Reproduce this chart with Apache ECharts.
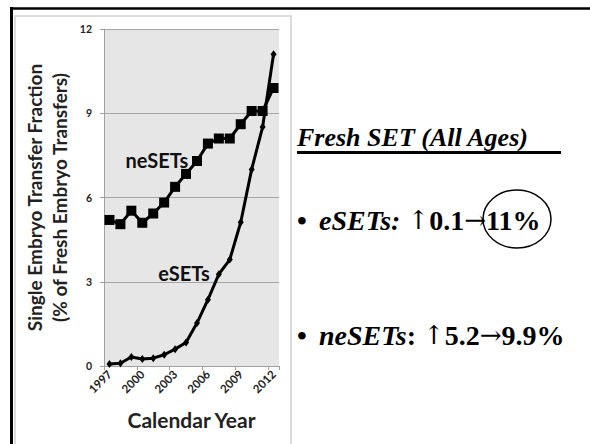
<!DOCTYPE html>
<html>
<head>
<meta charset="utf-8">
<script src="https://cdn.jsdelivr.net/npm/echarts@6/dist/echarts.min.js"></script>
<style>
  html, body { margin: 0; padding: 0; background: #fff; }
  #chart { width: 590px; height: 444px; }
</style>
</head>
<body>
<div id="chart"></div>
<script>
// calendar years on the x axis
const years = ["1997", "1998", "1999", "2000", "2001", "2002", "2003", "2004",
  "2005", "2006", "2007", "2008", "2009", "2010", "2011", "2012"];
// elective single embryo transfers (% of fresh transfers)
const eSETs = [0.07, 0.1, 0.32, 0.25, 0.28, 0.4, 0.6, 0.84,
  1.53, 2.36, 3.27, 3.79, 5.12, 7.0, 8.51, 11.1];
// non-elective single embryo transfers
const neSETs = [5.2, 5.05, 5.53, 5.1, 5.43, 5.82, 6.38, 6.84,
  7.3, 7.92, 8.1, 8.1, 8.61, 9.08, 9.08, 9.9];
const yTicks = [0, 3, 6, 9, 12];

const chart = echarts.init(document.getElementById("chart"), null, { renderer: "svg" });

const lineSeries = (name, data, symbol, size) => ({
  name: name,
  type: "line",
  data: data,
  symbol: symbol,
  symbolSize: size,
  showSymbol: true,
  showAllSymbol: true,
  itemStyle: { color: "#000" },
  lineStyle: { color: "#000", width: 3 },
  animation: false,
});

const serif = "'Liberation Serif'";
// rich styles for the bullet lines
const noteRich = {
  i: { font: "italic bold 28px " + serif, fill: "#000" },
  b: { font: "bold 28px " + serif, fill: "#000" },
  a: { font: "26px 'DejaVu Serif'", fill: "#000" },
};

chart.setOption({
  animation: false,
  grid: {
    left: 104,
    right: 311,
    top: 29,
    bottom: 78,
    show: true,
    backgroundColor: "#e6e6e6",
    borderWidth: 0,
  },
  xAxis: {
    type: "category",
    data: years,
    boundaryGap: true,
    name: "Calendar Year",
    nameLocation: "middle",
    nameGap: 43,
    nameTextStyle: { fontFamily: "Lato", fontWeight: "bold", fontSize: 21, color: "#222" },
    axisLine: { lineStyle: { color: "#a0a0a0", width: 1 } },
    axisTick: { show: true, length: 4, lineStyle: { color: "#a0a0a0" } },
    axisLabel: {
      interval: 2,
      rotate: 45,
      margin: 6,
      fontFamily: "Lato",
      fontWeight: "bold",
      fontSize: 11.5,
      color: "#222",
    },
  },
  yAxis: {
    type: "value",
    min: yTicks[0],
    max: yTicks[yTicks.length - 1],
    interval: 3,
    name: "Single Embryo Transfer Fraction\n(% of Fresh Embryo Transfers)",
    nameLocation: "middle",
    nameRotate: 90,
    nameGap: 32,
    nameTextStyle: {
      fontFamily: "Lato",
      fontWeight: "bold",
      fontSize: 19,
      lineHeight: 25,
      color: "#222",
    },
    axisLine: { show: true, lineStyle: { color: "#a0a0a0", width: 1 } },
    axisTick: { show: true, length: 4, lineStyle: { color: "#a0a0a0" } },
    splitLine: { show: true, lineStyle: { color: "#a6a6a6", width: 1 } },
    axisLabel: {
      margin: 12,
      fontFamily: "Lato",
      fontWeight: "bold",
      fontSize: 10.5,
      color: "#222",
    },
  },
  series: [
    lineSeries("neSETs", neSETs, "rect", 10),
    lineSeries("eSETs", eSETs, "diamond", [6, 8]),
  ],
  graphic: [
    // slide frame
    { type: "line", shape: { x1: 10, y1: 8.5, x2: 590, y2: 8.5 }, style: { stroke: "#000", lineWidth: 2.5 } },
    { type: "line", shape: { x1: 11.5, y1: 7, x2: 11.5, y2: 444 }, style: { stroke: "#000", lineWidth: 3 } },
    { type: "rect", shape: { x: 15, y: 16, width: 276, height: 440 }, style: { fill: "none", stroke: "#d0d0d0", lineWidth: 1.5 } },
    // series labels inside the plot
    { type: "text", x: 157, y: 160, style: { text: "neSETs", font: "bold 20px Lato", fill: "#111", align: "center", verticalAlign: "middle" } },
    { type: "text", x: 184, y: 273, style: { text: "eSETs", font: "bold 20px Lato", fill: "#111", align: "center", verticalAlign: "middle" } },
    // right-hand notes
    { type: "text", x: 297, y: 137, style: { text: "Fresh SET (All Ages)", font: "italic bold 26px " + serif, fill: "#000", verticalAlign: "middle" } },
    { type: "line", shape: { x1: 297, y1: 152.5, x2: 561, y2: 152.5 }, style: { stroke: "#000", lineWidth: 3 } },
    { type: "text", x: 297, y: 220, style: { text: "•", font: "bold 28px " + serif, fill: "#000", verticalAlign: "middle" } },
    {
      type: "text", x: 319, y: 220,
      style: {
        text: "{i|eSETs:} {a|↑}{b|0.1}{a|→}{b|11%}",
        verticalAlign: "middle",
        rich: noteRich,
        font: "bold 28px " + serif,
        fill: "#000",
      },
    },
    { type: "ellipse", shape: { cx: 517, cy: 219, rx: 34, ry: 29 }, style: { fill: "none", stroke: "#000", lineWidth: 1.5 } },
    { type: "text", x: 297, y: 335, style: { text: "•", font: "bold 28px " + serif, fill: "#000", verticalAlign: "middle" } },
    {
      type: "text", x: 319, y: 335,
      style: {
        text: "{i|neSETs}{b|: }{a|↑}{b|5.2}{a|→}{b|9.9%}",
        verticalAlign: "middle",
        rich: noteRich,
        font: "bold 28px " + serif,
        fill: "#000",
      },
    },
  ],
});
</script>
</body>
</html>
